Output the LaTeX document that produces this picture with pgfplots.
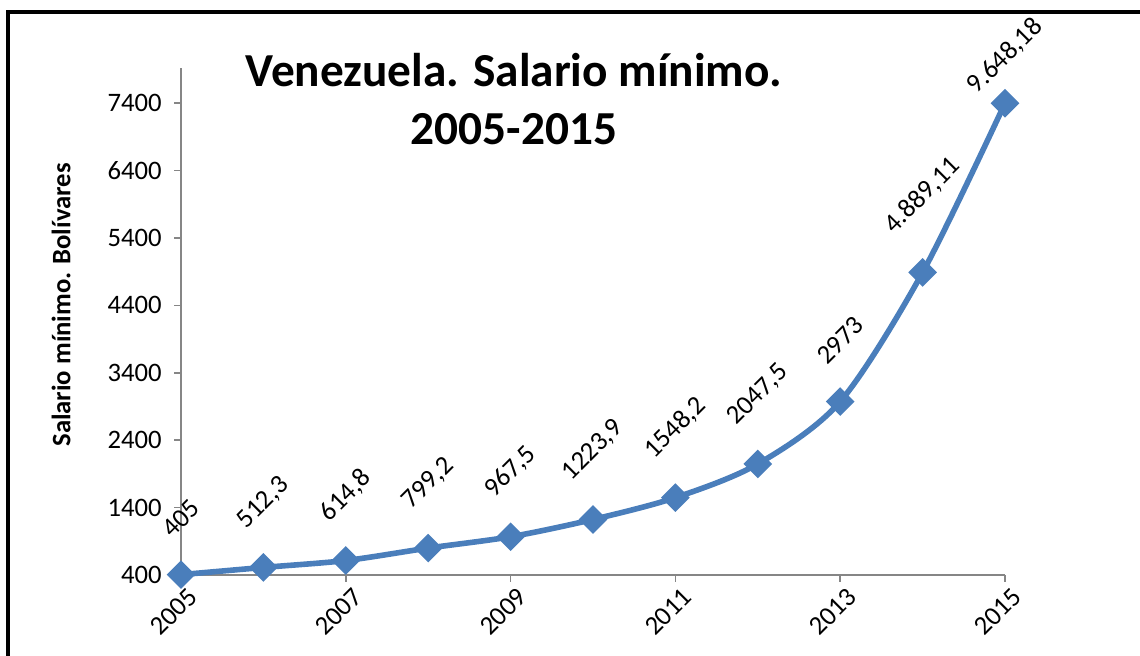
\documentclass[border=0pt]{standalone}
\usepackage{fontspec}
\setmainfont{Carlito}
\usepackage{graphicx}
\usepackage{pgfplots}
\pgfplotsset{compat=1.18}

\definecolor{serie}{HTML}{4A7EBB}
\definecolor{eje}{HTML}{868686}

\pgfplotstableread{
anio  valor  etiq      sh
2005  405    405       24.75
2006  512.3  512,3     24.75
2007  614.8  614,8     24.75
2008  799.2  799,2     24.75
2009  967.5  967,5     24.75
2010  1223.9 1223,9    24.75
2011  1548.2 1548,2    24.75
2012  2047.5 2047,5    24.75
2013  2973   2973      24.75
2014  4889.11 4.889,11 24.75
2015  7400   9.648,18  2.25
}\salario

\begin{document}
\begin{tikzpicture}
\path[use as bounding box] (0,0) rectangle (855pt,492pt);
% marco
\draw[line width=3pt, line cap=rect] (6pt,0) -- (6pt,483pt) -- (856pt,483pt);

\begin{axis}[
  at={(135.75pt,60.75pt)}, anchor=south west,
  scale only axis, width=618pt, height=380.25pt,
  xmin=2005, xmax=2015, ymin=400, ymax=7922,
  axis lines*=left,
  axis line style={eje, line width=1.2pt},
  xtick={2005,2007,...,2015},
  ytick={400,1400,...,7400},
  tick align=outside, major tick length=5pt,
  tick style={eje, line width=1.2pt},
  /pgf/number format/1000 sep={},
  /pgf/number format/assume math mode=true,
  tick label style={font=\fontsize{20}{21}\selectfont},
  x tick label style={rotate=45, anchor=north east, xshift=4pt, yshift=-2pt},
  y tick label style={xshift=-6pt},
  clip=false,
  point meta=explicit symbolic,
  nodes near coords={\rotatebox{45}{\pgfplotspointmeta}},
  visualization depends on={\thisrow{sh} \as \sh},
  every node near coord/.append style={anchor=south, inner sep=0pt,
    yshift=\sh pt, font=\fontsize{20}{21}\selectfont, text=black},
]
\addplot[serie, line width=4.2pt, smooth, tension=0.5,
  mark=square*, mark size=5.5pt,
  mark options={rotate=45, fill=serie, draw=none}]
  table[x=anio, y=valor, meta=etiq] {\salario};
\end{axis}

\node[anchor=base, font=\bfseries\fontsize{35.5}{36}\selectfont] at (385.5pt,426.75pt) {Venezuela. Salario mínimo.};
\node[anchor=base, font=\bfseries\fontsize{35.5}{36}\selectfont] at (385.5pt,383.25pt) {2005-2015};
\node[rotate=90, font=\bfseries\fontsize{20}{20}\selectfont] at (45.75pt,263.25pt) {Salario mínimo. Bolívares};
\end{tikzpicture}
\end{document}
